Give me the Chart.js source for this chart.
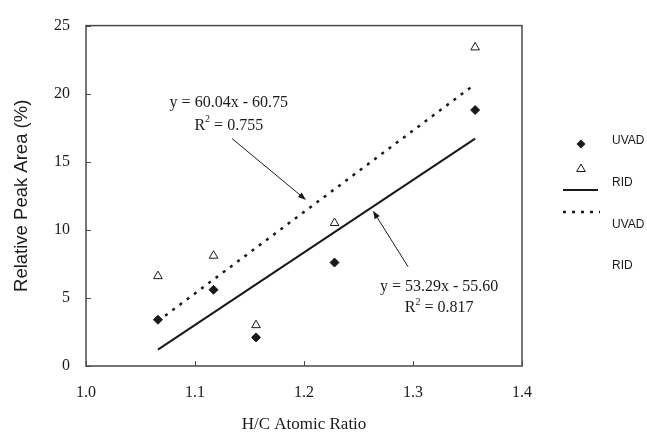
<!DOCTYPE html>
<html>
<head>
<meta charset="utf-8">
<script src="https://cdn.jsdelivr.net/npm/chart.js@4.4.0/dist/chart.umd.min.js"></script>
<style>
  html, body { margin: 0; padding: 0; background: #fff; }
  #wrap { width: 647px; height: 433px; }
</style>
</head>
<body>
<div id="wrap"><canvas id="c" width="647" height="433"></canvas></div>
<script>
// ---------- data ----------
const hcRatio  = [1.066, 1.117, 1.156, 1.228, 1.357];
const uvadArea = [3.4, 5.6, 2.1, 7.6, 18.8];
const ridArea  = [6.6, 8.1, 3.0, 10.5, 23.4];

const fitX      = [1.066, 1.357];
const uvadFitY  = [1.2, 16.7];
const ridFitY   = [3.3, 20.7];

const xTicks = [1.0, 1.1, 1.2, 1.3, 1.4];
const yTicks = [0, 5, 10, 15, 20, 25];

const legendNames = ['UVAD', 'RID', 'UVAD', 'RID'];

const ridEqText  = ['y = 60.04x - 60.75', '0.755'];
const uvadEqText = ['y = 53.29x - 55.60', '0.817'];

// annotation anchors in data units
const ridNote  = { x: 1.131, y1: 19.35, y2: 17.65, tail: [1.134, 16.7], head: [1.2018, 12.2] };
const uvadNote = { x: 1.324, y1: 5.85,  y2: 4.25,  tail: [1.2954, 7.3], head: [1.2633, 11.4] };

const SERIF = '"Liberation Serif", "Times New Roman", serif';
const SANS  = '"Liberation Sans", Arial, sans-serif';
const INK = '#1a1a1a';

const pts = (xs, ys) => xs.map((x, i) => ({ x, y: ys[i] }));

// ---------- helpers ----------
function arrow(ctx, x1, y1, x2, y2){
  const a = Math.atan2(y2 - y1, x2 - x1), L = 8, W = 3;
  ctx.save();
  ctx.strokeStyle = INK; ctx.fillStyle = INK; ctx.lineWidth = 1;
  ctx.beginPath(); ctx.moveTo(x1, y1); ctx.lineTo(x2 - Math.cos(a)*L*0.8, y2 - Math.sin(a)*L*0.8); ctx.stroke();
  ctx.beginPath();
  ctx.moveTo(x2, y2);
  ctx.lineTo(x2 - Math.cos(a)*L - Math.sin(a)*W, y2 - Math.sin(a)*L + Math.cos(a)*W);
  ctx.lineTo(x2 - Math.cos(a)*L + Math.sin(a)*W, y2 - Math.sin(a)*L - Math.cos(a)*W);
  ctx.closePath(); ctx.fill();
  ctx.restore();
}
function r2Text(ctx, cx, cy, val){
  ctx.save();
  ctx.fillStyle = INK; ctx.textBaseline = 'middle'; ctx.textAlign = 'left';
  ctx.font = '16px ' + SERIF;
  const wR = ctx.measureText('R').width, rest = ' = ' + val, wRest = ctx.measureText(rest).width;
  ctx.font = '10px ' + SERIF;
  const wS = ctx.measureText('2').width;
  const x0 = cx - (wR + wS + wRest) / 2;
  ctx.font = '16px ' + SERIF; ctx.fillText('R', x0, cy);
  ctx.font = '10px ' + SERIF; ctx.fillText('2', x0 + wR, cy - 6);
  ctx.font = '16px ' + SERIF; ctx.fillText(rest, x0 + wR + wS, cy);
  ctx.restore();
}
function diamond(ctx, x, y, r){
  ctx.beginPath(); ctx.moveTo(x, y - r); ctx.lineTo(x + r, y); ctx.lineTo(x, y + r); ctx.lineTo(x - r, y); ctx.closePath();
  ctx.fillStyle = INK; ctx.fill();
}
function triangle(ctx, x, y, r){
  ctx.beginPath();
  ctx.moveTo(x, y - r);
  ctx.lineTo(x + r * 0.866, y + r / 2);
  ctx.lineTo(x - r * 0.866, y + r / 2);
  ctx.closePath();
  ctx.fillStyle = '#fff'; ctx.fill();
  ctx.strokeStyle = INK; ctx.lineWidth = 1; ctx.stroke();
}

// frame + inward tick marks
const framePlugin = {
  id: 'frame',
  beforeDatasetsDraw(chart){
    const { ctx, chartArea: a, scales: { x, y } } = chart;
    ctx.save();
    ctx.strokeStyle = '#4a4a4a'; ctx.lineWidth = 1.5;
    ctx.strokeRect(a.left, a.top, a.right - a.left, a.bottom - a.top);
    ctx.lineWidth = 1;
    ctx.beginPath();
    xTicks.forEach(v => { const px = Math.round(x.getPixelForValue(v)) + 0.5; ctx.moveTo(px, a.bottom); ctx.lineTo(px, a.bottom - 5); });
    yTicks.forEach(v => { const py = Math.round(y.getPixelForValue(v)) + 0.5; ctx.moveTo(a.left, py); ctx.lineTo(a.left + 5, py); });
    ctx.stroke();
    ctx.restore();
  }
};

// equations, arrows and the (misaligned) legend
const notesPlugin = {
  id: 'notes',
  afterDraw(chart){
    const { ctx, scales: { x, y } } = chart;
    ctx.save();
    ctx.fillStyle = INK; ctx.textAlign = 'center'; ctx.textBaseline = 'middle';
    ctx.font = '16px ' + SERIF;
    ctx.fillText(ridEqText[0], x.getPixelForValue(ridNote.x), y.getPixelForValue(ridNote.y1));
    r2Text(ctx, x.getPixelForValue(ridNote.x), y.getPixelForValue(ridNote.y2), ridEqText[1]);
    ctx.fillText(uvadEqText[0], x.getPixelForValue(uvadNote.x), y.getPixelForValue(uvadNote.y1));
    r2Text(ctx, x.getPixelForValue(uvadNote.x), y.getPixelForValue(uvadNote.y2), uvadEqText[1]);
    arrow(ctx, x.getPixelForValue(ridNote.tail[0]), y.getPixelForValue(ridNote.tail[1]),
               x.getPixelForValue(ridNote.head[0]), y.getPixelForValue(ridNote.head[1]));
    arrow(ctx, x.getPixelForValue(uvadNote.tail[0]), y.getPixelForValue(uvadNote.tail[1]),
               x.getPixelForValue(uvadNote.head[0]), y.getPixelForValue(uvadNote.head[1]));

    // legend: markers and names do not line up, as in the source figure
    const mx = 581, lx = 612;
    diamond(ctx, mx, 144, 4.5);
    triangle(ctx, mx, 169, 5);
    ctx.strokeStyle = INK; ctx.lineWidth = 2;
    ctx.beginPath(); ctx.moveTo(563, 190); ctx.lineTo(598, 190); ctx.stroke();
    ctx.lineWidth = 2.5; ctx.setLineDash([3, 6]);
    ctx.beginPath(); ctx.moveTo(563, 212); ctx.lineTo(600, 212); ctx.stroke();
    ctx.setLineDash([]);
    ctx.font = '12px ' + SANS; ctx.textAlign = 'left'; ctx.fillStyle = INK;
    legendNames.forEach((n, i) => ctx.fillText(n, lx, 141 + i * 41.7));
    ctx.restore();
  }
};

new Chart(document.getElementById('c'), {
  type: 'scatter',
  data: {
    datasets: [
      { label: 'UVAD', data: pts(hcRatio, uvadArea), pointStyle: 'rectRot', pointRadius: 4.5,
        backgroundColor: INK, borderColor: INK, borderWidth: 1, order: 1 },
      { label: 'RID', data: pts(hcRatio, ridArea), pointStyle: 'triangle', pointRadius: 5,
        backgroundColor: '#fff', borderColor: INK, borderWidth: 1, order: 0 },
      { label: 'UVAD fit', data: pts(fitX, uvadFitY), showLine: true, pointRadius: 0,
        borderColor: INK, borderWidth: 2, order: 2 },
      { label: 'RID fit', data: pts(fitX, ridFitY), showLine: true, pointRadius: 0,
        borderColor: INK, borderWidth: 2.5, borderDash: [3, 6], order: 3 }
    ]
  },
  options: {
    responsive: false,
    animation: false,
    layout: { padding: { left: 0, top: 20, right: 125, bottom: 0 } },
    plugins: { legend: { display: false }, tooltip: { enabled: false } },
    scales: {
      x: {
        type: 'linear', min: 1.0, max: 1.4,
        afterBuildTicks: s => { s.ticks = xTicks.map(v => ({ value: v })); },
        afterFit: s => { s.height = 67; },
        grid: { display: false, drawTicks: false },
        border: { display: false },
        ticks: { color: INK, font: { family: SERIF, size: 16 }, padding: 17, callback: v => v.toFixed(1) },
        title: { display: true, text: 'H/C Atomic Ratio', color: INK,
                 font: { family: SERIF, size: 17, lineHeight: 1 }, padding: { top: 0, bottom: 0 } }
      },
      y: {
        type: 'linear', min: 0, max: 25,
        afterBuildTicks: s => { s.ticks = yTicks.map(v => ({ value: v })); },
        afterFit: s => { s.width = 86; },
        grid: { display: false, drawTicks: false },
        border: { display: false },
        ticks: { color: INK, font: { family: SERIF, size: 16 }, padding: 16 },
        title: { display: true, text: 'Relative Peak Area (%)', color: INK,
                 font: { family: SANS, size: 18.5, lineHeight: 1.2 }, padding: { top: 11, bottom: 0 } }
      }
    }
  },
  plugins: [framePlugin, notesPlugin]
});
</script>
</body>
</html>
